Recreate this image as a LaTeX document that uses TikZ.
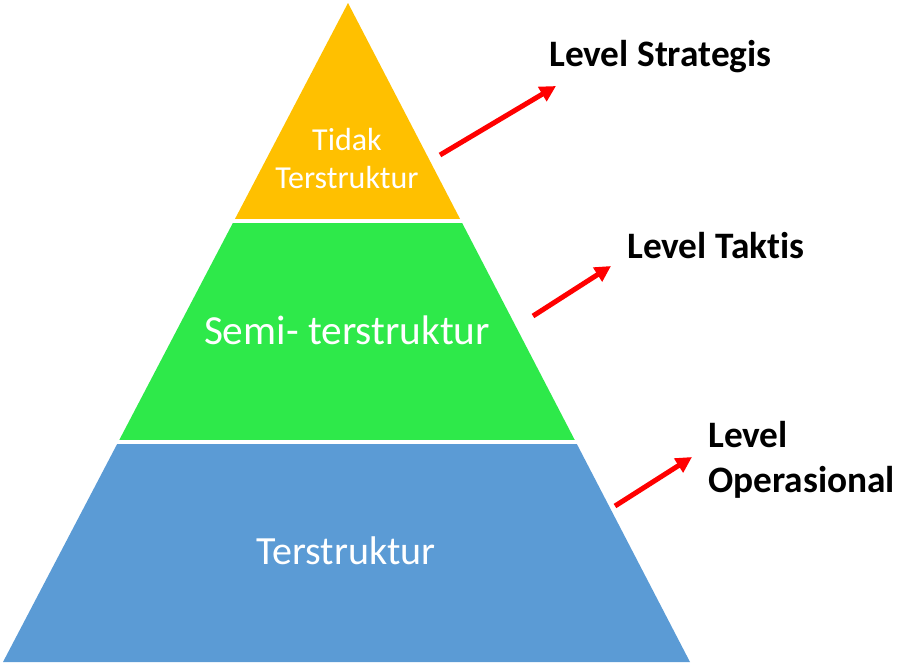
\documentclass[tikz,border=0pt]{standalone}
\usepackage{fontspec}
\setmainfont{Carlito}[Ligatures=NoCommon]
\usepackage{tikz}
\usetikzlibrary{arrows.meta}

\definecolor{tierTop}{RGB}{255,192,0}
\definecolor{tierMid}{RGB}{46,233,74}
\definecolor{tierLow}{RGB}{91,155,213}

\tikzset{
  tiertext/.style={anchor=center, inner sep=0.75pt, text=white, align=center},
  leveltext/.style={anchor=west, inner sep=0.75pt, font=\bfseries\fontsize{28}{33.75}\selectfont, align=left},
  levelarrow/.style={draw=red, line width=3.75pt, -{Triangle[length=12pt,width=12pt]}}
}

\begin{document}
\begin{tikzpicture}[x=0.75pt,y=0.75pt,yscale=-1,xscale=1]
\useasboundingbox (0,0) rectangle (919,665);

%Shape: Top band
\fill [tierTop] (348,3) -- (461.1,221) -- (233.9,221) -- cycle ;
%Shape: Middle band
\fill [tierMid] (233.9,221) -- (461.1,221) -- (575.8,442) -- (118.2,442) -- cycle ;
%Shape: Bottom band
\fill [tierLow] (118.2,442) -- (575.8,442) -- (690,662) -- (3,662) -- cycle ;
%Separators
\draw [white, line width=3pt] (200,221) -- (500,221) ;
\draw [white, line width=3pt] (90,442) -- (610,442) ;

% Text Node
\node [tiertext, font=\fontsize{24}{28.5}\selectfont] (tidak) at (347,159) {Tidak\\Terstruktur};
% Text Node
\node [tiertext, font=\fontsize{31}{37}\selectfont] (semi) at (347,330) {Semi- terstruktur};
% Text Node
\node [tiertext, font=\fontsize{30}{36}\selectfont] (struk) at (346,551) {Terstruktur};

% Text Node
\node [leveltext] (strategis) at (548,57) {Level Strategis};
% Text Node
\node [leveltext] (taktis) at (626,246) {Level Taktis};
% Text Node
\node [leveltext] (operasional) at (707,460) {Level\\Operasional};

%Straight Lines
\coordinate (sA) at (440,155);
\coordinate (eA) at (556,86);
\coordinate (sB) at (533,316);
\coordinate (eB) at (611,266);
\coordinate (sC) at (615,506);
\coordinate (eC) at (692,457);
\draw [levelarrow] (sA) -- (eA) ;
\draw [levelarrow] (sB) -- (eB) ;
\draw [levelarrow] (sC) -- (eC) ;

\end{tikzpicture}
\end{document}
